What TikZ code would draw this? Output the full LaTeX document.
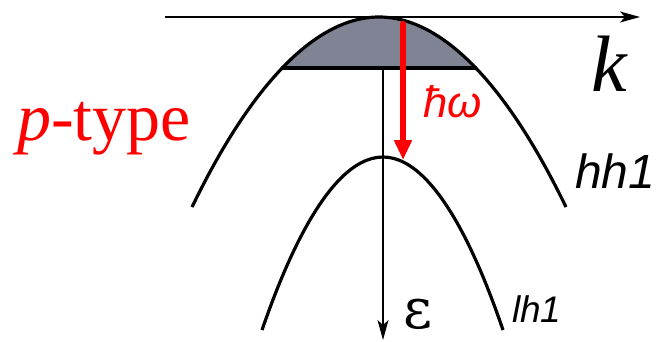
\documentclass[tikz,border=0pt]{standalone}
\usepackage{fontspec}
\setmainfont{Liberation Serif}
\newfontfamily\lsans{Liberation Sans}
\newfontfamily\dvserif{DejaVu Serif}
\usetikzlibrary{arrows.meta}
\definecolor{holefill}{RGB}{127,131,147}
\begin{document}
\begin{tikzpicture}[x=1pt,y=-1pt,
  axis/.style={line width=1.3pt,-{Stealth[length=20pt,width=11pt,inset=5pt]}},
  band/.style={line width=3.2pt},
  lbl/.style={inner sep=0pt,anchor=base west},
  photon/.style={red,line width=6.5pt,line cap=round,-{Triangle[length=20pt,width=17pt,line cap=butt]}}]
\useasboundingbox (0,0) rectangle (660,341);
% coordinates
\coordinate (kstart) at (165,17);
\coordinate (kend) at (640,17);
\coordinate (etop) at (383,17);
\coordinate (ebot) at (383,340);
\coordinate (hhL) at (192,207);
\coordinate (hhTop) at (379,17);
\coordinate (hhR) at (566,207);
\coordinate (fillL) at (281,68);
\coordinate (fillR) at (477,68);
\coordinate (lhL) at (262,330);
\coordinate (lhTop) at (383,157);
\coordinate (lhR) at (503,330);
\coordinate (phStart) at (403,24);
\coordinate (phEnd) at (403,160);
% axes
\draw[axis] (etop) -- (ebot);
\draw[axis] (kstart) -- (kend);
% occupied holes
\fill[holefill] (fillL) parabola bend (hhTop) (fillR) -- cycle;
\draw[band,line cap=butt] (fillL) -- (fillR);
% bands
\draw[band] (hhL) parabola bend (hhTop) (hhR);
\draw[band] (lhL) parabola bend (lhTop) (lhR);
% transition
\draw[photon] (phStart) -- (phEnd);
% labels
\node[lbl,red] (ptype) at (17,140) {\fontsize{68}{72}\selectfont\itshape p\upshape -type};
\node[lbl,red] (hw) at (423,117) {\lsans\fontsize{44}{48}\selectfont\itshape ħω};
\node[lbl] (k) at (591,91) {\fontsize{80}{84}\selectfont\itshape k};
\node[lbl,text depth=0pt] (eps) at (403,328) {\dvserif\fontsize{56}{60}\selectfont ε};
\node[lbl] (hh) at (575,188) {\lsans\fontsize{48}{52}\selectfont\itshape hh1};
\node[lbl] (lh) at (512,322) {\lsans\fontsize{37}{40}\selectfont\itshape lh1};
\end{tikzpicture}
\end{document}
